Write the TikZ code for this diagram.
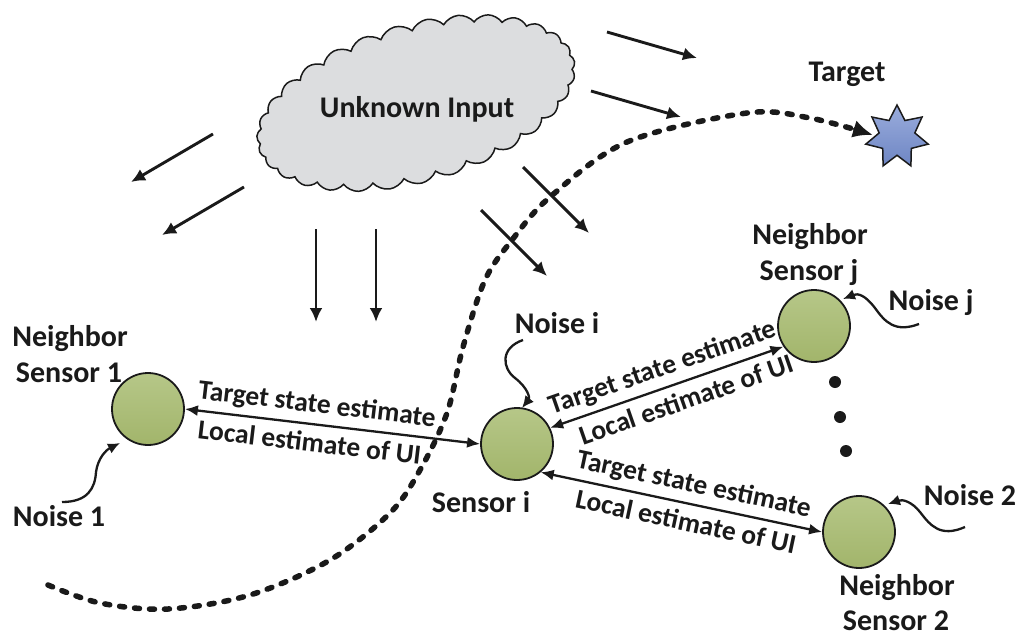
\documentclass[tikz,border=0pt]{standalone}
\usepackage{fontspec}
\setmainfont{Carlito}
\usetikzlibrary{shapes.symbols,shapes.geometric,arrows.meta,calc}
\definecolor{cloudgray}{HTML}{DCDDDF}
\definecolor{gtop}{HTML}{B6C788}
\definecolor{gbot}{HTML}{A2B56B}
\definecolor{stop}{HTML}{9AACDC}
\definecolor{sbot}{HTML}{6E86C4}
\definecolor{ink}{HTML}{1A1A1A}
\begin{document}
\begin{tikzpicture}[x=1pt,y=-1pt,
  txt/.style={font=\fontsize{30}{32}\selectfont\bfseries, inner sep=0pt, anchor=base, text=ink},
  lbl/.style={font=\fontsize{27.5}{29}\selectfont\bfseries, sloped, inner sep=0pt, text=ink},
  sensor/.style={circle, draw=ink, line width=1.8pt, minimum size=72pt, inner sep=0pt, top color=gtop, bottom color=gbot},
  wind/.style={line width=2.9pt, draw=ink, -{Latex[length=14pt,width=13pt]}},
  noisearrow/.style={line width=2.3pt, draw=ink, -{Latex[length=12pt,width=11pt]}},
  link/.style={line width=2.3pt, draw=ink, {Latex[length=13pt,width=11pt]}-{Latex[length=13pt,width=11pt]}},
  traj/.style={line width=5.5pt, draw=ink, line cap=round, dash pattern=on 5pt off 10pt, -{Latex[length=20pt,width=18pt]}},
]
\useasboundingbox[fill=white] (0,0) rectangle (1024,643);

% trajectory
\coordinate (trajend) at (873,135);
\draw[traj] plot[smooth, tension=0.55] coordinates {(48,585) (100,603) (168,609) (250,595) (330,560) (390,513) (420,470) (447,413) (463,347) (485,280) (512,240) (550,197) (627,142) (747,113) (810,118) (873,135)};

% cloud
\node[cloud, cloud puffs=31, cloud puff arc=110, aspect=2.2, minimum width=328pt, minimum height=158pt, rotate=16, draw=ink, line width=1.5pt, fill=cloudgray] (ui) at (416,103) {};
\node[txt] (uitxt) at (417,117) {Unknown Input};

% wind arrows
\draw[wind] (213,134) -- (131,182);
\draw[wind] (244,187) -- (162,235);
\draw[wind] (316,229) -- (316,322);
\draw[wind] (376,229) -- (376,322);
\draw[wind] (523,167) -- (589,233);
\draw[wind] (481,210) -- (547,276);
\draw[wind] (607,32) -- (697,58);
\draw[wind] (591,91) -- (681,117);

% target
\node[star, star points=7, star point ratio=1.75, minimum size=64pt, inner sep=0pt, draw=ink, line width=1.5pt, top color=stop, bottom color=sbot] (target) at (897,137) {};
\node[txt] (targettxt) at (847,81) {Target};

% sensors
\node[sensor] (s1) at (148,409) {};
\node[sensor] (si) at (517,444) {};
\node[sensor] (nj) at (814,326) {};
\node[sensor] (n2) at (859,532) {};

\node[txt] (s1a) at (70,346) {Neighbor};
\node[txt] (s1b) at (69,382) {Sensor 1};
\node[txt] (n1t) at (59,526) {Noise 1};
\node[txt] (sit) at (481,512) {Sensor i};
\node[txt] (nit) at (557,333) {Noise i};
\node[txt] (nja) at (810,244) {Neighbor};
\node[txt] (njb) at (809,280) {Sensor j};
\node[txt] (njt) at (931,310) {Noise j};
\node[txt] (n2t) at (970,505) {Noise 2};
\node[txt] (n2a) at (897,595) {Neighbor};
\node[txt] (n2b) at (896,630) {Sensor 2};

% dots
\fill[ink] (835,382) circle (6pt);
\fill[ink] (840,417) circle (6pt);
\fill[ink] (846,451) circle (6pt);

% noise arrows
\draw[noisearrow] (62,502) .. controls (88,502) and (95,488) .. (96,472) .. controls (98,458) and (106,450) .. (120,443);
\draw[noisearrow] (523,340) .. controls (500,348) and (502,368) .. (515,378) .. controls (528,388) and (530,398) .. (522,408);
\draw[noisearrow] (919,324) .. controls (895,333) and (885,322) .. (875,308) .. controls (865,295) and (858,293) .. (843,299);
\draw[noisearrow] (965,527) .. controls (940,538) and (930,525) .. (920,512) .. controls (912,502) and (903,499) .. (888,504);

% links
\draw[link] (s1.0) -- node[lbl, above=6pt, pos=0.44] {Target state estimate} node[lbl, below=7pt, pos=0.43] {Local estimate of UI} (si.180);
\draw[link] (si.26) -- node[lbl, above=6pt, pos=0.51] {Target state estimate} node[lbl, below=7pt, pos=0.56] {Local estimate of UI} (nj.214);
\draw[link] (si.-50) -- node[lbl, above=6pt, pos=0.53] {Target state estimate} node[lbl, below=7pt, pos=0.53] {Local estimate of UI} (n2.180);
\end{tikzpicture}
\end{document}
